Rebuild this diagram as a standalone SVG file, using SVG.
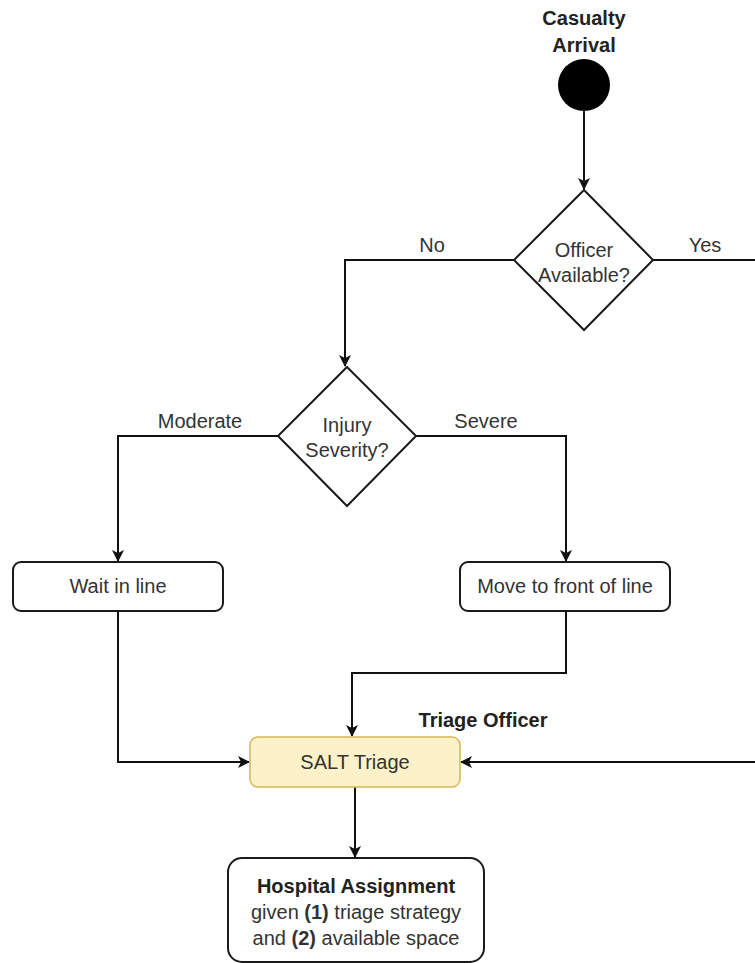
<svg xmlns="http://www.w3.org/2000/svg" width="755" height="963" viewBox="0 0 755 963">
<style>
.e{fill:none;stroke:#111;stroke-width:2}
.n{fill:#fff;stroke:#1a1a1a;stroke-width:2}
.t{font-family:"Liberation Sans",Arial,sans-serif;font-size:20px;fill:#333;text-anchor:middle}
.b{font-family:"Liberation Sans",Arial,sans-serif;font-size:20px;font-weight:bold;fill:#222;text-anchor:middle}
</style>
<defs>
<marker id="a" viewBox="0 0 12 12" refX="11" refY="6" markerWidth="12" markerHeight="12" markerUnits="userSpaceOnUse" orient="auto">
<path d="M0,0 L12,6 L0,12 L3,6 Z" fill="#111"/>
</marker>
</defs>
<rect width="755" height="963" fill="#fff"/>
<g id="connectors">
<path class="e" d="M584,111 V189" marker-end="url(#a)"/>
<path class="e" d="M514,260 H345 V366" marker-end="url(#a)"/>
<path class="e" d="M653,260 H755"/>
<path class="e" d="M278,436 H118 V561" marker-end="url(#a)"/>
<path class="e" d="M416,436 H566 V561" marker-end="url(#a)"/>
<path class="e" d="M118,611 V762 H249" marker-end="url(#a)"/>
<path class="e" d="M566,611 V673 H352 V736" marker-end="url(#a)"/>
<path class="e" d="M755,762 H461" marker-end="url(#a)"/>
<path class="e" d="M355,787 V857" marker-end="url(#a)"/>
</g>
<g id="labels">
<text class="t" x="432" y="252">No</text>
<text class="t" x="705" y="252">Yes</text>
<text class="t" x="200" y="428">Moderate</text>
<text class="t" x="486" y="428">Severe</text>
<text class="b" x="483" y="727">Triage Officer</text>
</g>
<g id="start">
<text class="b" x="584" y="25">Casualty</text>
<text class="b" x="584" y="52">Arrival</text>
<circle cx="584" cy="85" r="26" fill="#000"/>
</g>
<g id="officer">
<path class="n" d="M584,190 L653,260 L584,330 L514,260 Z"/>
<text class="t" x="584" y="257">Officer</text>
<text class="t" x="584" y="282">Available?</text>
</g>
<g id="severity">
<path class="n" d="M347,367 L416,436 L347,506 L278,436 Z"/>
<text class="t" x="347" y="432">Injury</text>
<text class="t" x="347" y="457">Severity?</text>
</g>
<g id="wait">
<rect class="n" x="13" y="562" width="210" height="49" rx="8"/>
<text class="t" x="118" y="593">Wait in line</text>
</g>
<g id="move">
<rect class="n" x="460" y="562" width="210" height="49" rx="8"/>
<text class="t" x="565" y="593">Move to front of line</text>
</g>
<g id="salt">
<rect x="250" y="737" width="210" height="50" rx="8" fill="#fdf1c9" stroke="#d6b656" stroke-width="1.5"/>
<text class="t" x="355" y="769">SALT Triage</text>
</g>
<g id="hospital">
<rect class="n" x="228" y="858" width="256" height="104" rx="14"/>
<text class="b" x="356" y="893">Hospital Assignment</text>
<text class="t" x="356" y="919">given <tspan font-weight="bold">(1)</tspan> triage strategy</text>
<text class="t" x="356" y="945">and <tspan font-weight="bold">(2)</tspan> available space</text>
</g>
</svg>
